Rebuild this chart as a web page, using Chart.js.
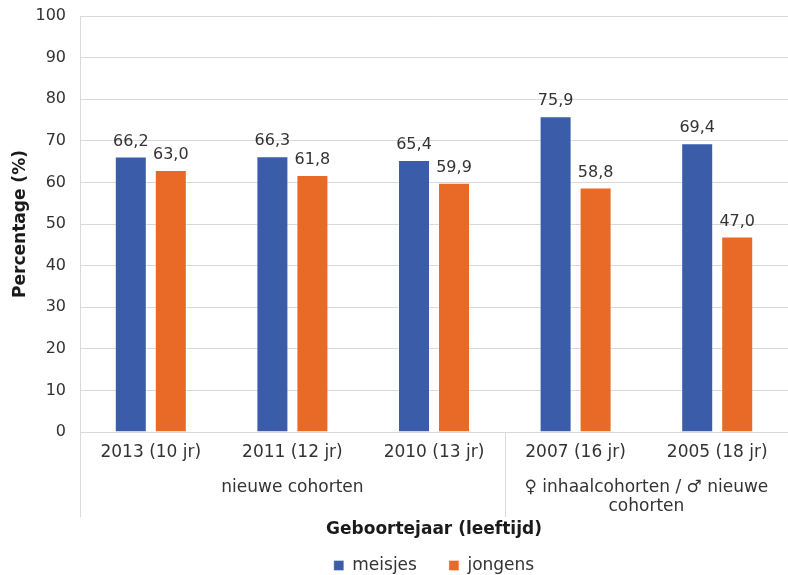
<!DOCTYPE html>
<html>
<head>
<meta charset="utf-8">
<script src="https://cdn.jsdelivr.net/npm/chart.js@4"></script>
<style>
  html, body { margin: 0; padding: 0; background: #fff; }
  #wrap { width: 788px; height: 575px; }
</style>
</head>
<body>
<div id="wrap"><canvas id="c"></canvas></div>
<script>
/* Vaccination coverage per birth cohort, girls vs boys. */
var years = ['2013 (10 jr)', '2011 (12 jr)', '2010 (13 jr)', '2007 (16 jr)', '2005 (18 jr)'];
var meisjes = [66.2, 66.3, 65.4, 75.9, 69.4];
var jongens = [63.0, 61.8, 59.9, 58.8, 47.0];
// second label row: text lines and the first/last category index it spans
var groups = [
  { lines: ['nieuwe cohorten'], from: 0, to: 2 },
  { lines: ['\u2640 inhaalcohorten / \u2642 nieuwe', 'cohorten'], from: 3, to: 4 }
];

var BLUE = '#3a5ca9';
var ORANGE = '#e96a27';
var GRID = '#d9d9d9';
var TEXT = '#333333';
var SANS = '"DejaVu Sans", Verdana, sans-serif';

function fmt(v) { return v.toFixed(1).replace('.', ','); }

/* value labels above each bar */
var valueLabels = {
  id: 'valueLabels',
  afterDatasetsDraw: function (chart) {
    var ctx = chart.ctx;
    ctx.save();
    ctx.font = '16px ' + SANS;
    ctx.fillStyle = TEXT;
    ctx.textAlign = 'center';
    ctx.textBaseline = 'middle';
    chart.data.datasets.forEach(function (ds, i) {
      chart.getDatasetMeta(i).data.forEach(function (bar, j) {
        ctx.fillText(fmt(ds.data[j]), bar.x, bar.y - 15);
      });
    });
    ctx.restore();
  }
};

/* group row under the year labels, with the separator lines */
var groupRow = {
  id: 'groupRow',
  afterLayout: function (chart) {
    // centre the legend under the plot area, as in the original
    if (chart.legend) chart.legend.left = chart.chartArea.left;
  },
  afterDraw: function (chart) {
    var ctx = chart.ctx;
    var x = chart.scales.x;
    var area = chart.chartArea;
    var half = (x.getPixelForValue(1) - x.getPixelForValue(0)) / 2;
    var lineBottom = area.bottom + 85;
    ctx.save();
    ctx.strokeStyle = GRID;
    ctx.lineWidth = 1;
    ctx.font = '17px ' + SANS;
    ctx.fillStyle = TEXT;
    ctx.textAlign = 'center';
    ctx.textBaseline = 'middle';
    groups.forEach(function (g) {
      var left = x.getPixelForValue(g.from) - half;
      var right = x.getPixelForValue(g.to) + half;
      if (g.from > 0) {
        ctx.beginPath();
        ctx.moveTo(Math.round(left) + 0.5, area.bottom);
        ctx.lineTo(Math.round(left) + 0.5, lineBottom);
        ctx.stroke();
      }
      g.lines.forEach(function (t, k) {
        ctx.fillText(t, (left + right) / 2, area.bottom + 56 + k * 19);
      });
    });
    ctx.beginPath();
    ctx.moveTo(area.left + 0.5, area.bottom);
    ctx.lineTo(area.left + 0.5, lineBottom);
    ctx.stroke();
    ctx.restore();
  }
};

new Chart(document.getElementById('c'), {
  type: 'bar',
  data: {
    labels: years,
    datasets: [
      { label: 'meisjes', data: meisjes, backgroundColor: BLUE, borderColor: 'rgba(255,255,255,0.35)', borderWidth: 1 },
      { label: 'jongens', data: jongens, backgroundColor: ORANGE, borderColor: 'rgba(255,255,255,0.35)', borderWidth: 1 }
    ]
  },
  options: {
    responsive: true,
    maintainAspectRatio: false,
    animation: false,
    layout: { padding: { top: 16, left: 0, right: 0, bottom: -9 } },
    datasets: { bar: { categoryPercentage: 0.565, barPercentage: 0.8 } },
    plugins: {
      legend: {
        position: 'bottom',
        labels: { boxWidth: 10, boxHeight: 10, padding: 32, color: TEXT, font: { family: SANS, size: 17 } }
      },
      tooltip: { enabled: false }
    },
    scales: {
      x: {
        grid: { display: false, drawTicks: false },
        border: { color: GRID },
        ticks: { color: TEXT, padding: 10, font: { family: SANS, size: 17 } },
        title: { display: true, text: 'Geboortejaar (leeftijd)', color: '#1a1a1a', padding: { top: 0, bottom: -15 }, font: { family: SANS, size: 17, weight: 'bold' } },
        afterFit: function (s) { s.height = 93; }
      },
      y: {
        min: 0, max: 100,
        grid: { color: GRID, drawTicks: false },
        border: { color: GRID },
        ticks: { stepSize: 10, color: TEXT, padding: 14, font: { family: SANS, size: 16 } },
        title: { display: true, text: 'Percentage (%)', color: '#1a1a1a', padding: { top: 10, bottom: 0 }, font: { family: SANS, size: 17, weight: 'bold' } },
        afterFit: function (s) { s.width = 80; s.paddingTop = 0; s.paddingBottom = 0; }
      }
    }
  },
  plugins: [valueLabels, groupRow]
});
</script>
</body>
</html>
